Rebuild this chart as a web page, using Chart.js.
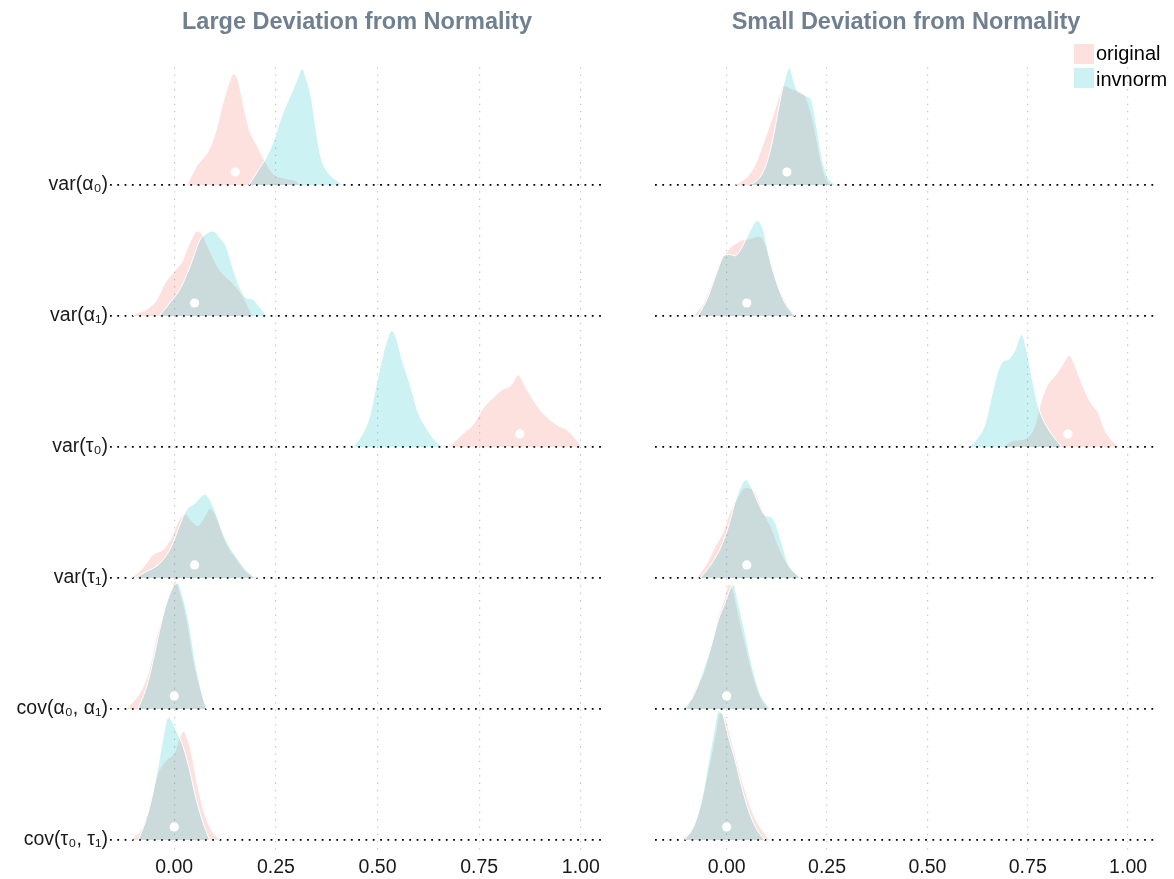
<!DOCTYPE html>
<html>
<head>
<meta charset="utf-8">
<title>Deviation from Normality</title>
<script src="https://cdn.jsdelivr.net/npm/chart.js@4.4.1/dist/chart.umd.min.js"></script>
<style>
	body{margin:0;background:#fff;width:1174px;height:879px;position:relative;overflow:hidden;font-family:"Liberation Sans",Arial,Helvetica,sans-serif;}
	#chartLarge{position:absolute;left:0;top:0;}
	#chartSmall{position:absolute;left:620px;top:0;}
	.key{position:absolute;left:1074px;width:20px;height:20px;}
	.lab{position:absolute;left:1096px;font-size:20px;line-height:24px;color:#000;white-space:nowrap;}
</style>
</head>
<body>
<canvas id="chartLarge" width="620" height="879"></canvas>
<canvas id="chartSmall" width="554" height="879"></canvas>
<div class="key" style="top:44px;background:rgba(248,118,109,0.22)"></div>
<div class="lab" style="top:41px">original</div>
<div class="key" style="top:68px;background:rgba(0,191,196,0.2)"></div>
<div class="lab" style="top:67px">invnorm</div>
<script>
	//DATA (rows from top to bottom, density as [x, height in rows])
	var rowLabels=["var(α₀)","var(α₁)","var(τ₀)","var(τ₁)","cov(α₀, α₁)","cov(τ₀, τ₁)"];
	var tickValues=[0,0.25,0.5,0.75,1];
	var trueValues=[0.15,0.05,0.85,0.05,0,0];

	var largeOriginal=[
		[[0.031,0],[0.054,.14],[0.087,.28],[0.103,.42],[0.120,.63],[0.136,.79],[0.146,.85],[0.157,.80],[0.169,.63],[0.185,.42],[0.202,.31],[0.222,.19],[0.242,.09],[0.275,.05],[0.304,.02],[0.308,0]],
		[[-0.102,0],[-0.094,.02],[-0.068,.05],[-0.044,.12],[-0.023,.25],[-0.003,.33],[0.018,.41],[0.038,.56],[0.056,.65],[0.067,.63],[0.087,.50],[0.112,.35],[0.144,.25],[0.169,.15],[0.193,0]],
		[[0.676,0],[0.709,.10],[0.737,.18],[0.758,.29],[0.782,.37],[0.807,.44],[0.828,.47],[0.846,.55],[0.864,.46],[0.889,.33],[0.913,.24],[0.946,.16],[0.962,.14],[0.983,.08],[1.003,0]],
		[[-0.105,0],[-0.077,.08],[-0.052,.18],[-0.027,.22],[-0.007,.31],[0.009,.43],[0.026,.49],[0.042,.44],[0.058,.40],[0.075,.47],[0.087,.53],[0.104,.47],[0.120,.33],[0.136,.22],[0.153,.15],[0.173,.06],[0.193,.02],[0.206,0]],
		[[-0.117,0],[-0.080,.15],[-0.060,.32],[-0.044,.55],[-0.027,.73],[-0.011,.88],[0.003,.98],[0.018,.85],[0.030,.70],[0.046,.40],[0.063,.17],[0.079,0]],
		[[-0.105,0],[-0.077,.11],[-0.056,.33],[-0.040,.51],[-0.019,.61],[0.001,.67],[0.013,.78],[0.023,.83],[0.034,.76],[0.046,.61],[0.058,.41],[0.075,.20],[0.091,.08],[0.112,0]]
	];
	var largeInvnorm=[
		[[0.184,0],[0.206,.11],[0.226,.21],[0.242,.32],[0.267,.55],[0.288,.70],[0.304,.82],[0.315,.89],[0.324,.82],[0.337,.67],[0.349,.42],[0.361,.21],[0.377,.10],[0.398,.04],[0.414,0]],
		[[-0.037,0],[-0.011,.10],[0.013,.20],[0.038,.37],[0.063,.58],[0.079,.63],[0.095,.65],[0.112,.60],[0.128,.53],[0.144,.37],[0.161,.22],[0.177,.14],[0.193,.13],[0.210,.07],[0.228,0]],
		[[0.439,0],[0.463,.10],[0.480,.23],[0.496,.46],[0.512,.69],[0.527,.85],[0.535,.89],[0.545,.84],[0.561,.66],[0.582,.46],[0.598,.28],[0.619,.15],[0.639,.06],[0.660,0]],
		[[-0.097,0],[-0.068,.05],[-0.036,.11],[-0.007,.24],[0.013,.40],[0.030,.52],[0.050,.57],[0.075,.64],[0.091,.58],[0.104,.48],[0.120,.34],[0.136,.24],[0.157,.14],[0.177,.06],[0.198,0]],
		[[-0.089,0],[-0.068,.17],[-0.052,.37],[-0.036,.60],[-0.019,.81],[-0.003,.93],[0.008,.96],[0.022,.85],[0.038,.63],[0.054,.32],[0.071,.09],[0.080,0]],
		[[-0.089,0],[-0.072,.13],[-0.056,.31],[-0.040,.56],[-0.027,.79],[-0.015,.94],[-0.003,.89],[0.009,.81],[0.022,.71],[0.038,.53],[0.054,.31],[0.071,.13],[0.087,0]]
	];
	var smallOriginal=[
		[[0.021,0],[0.050,.06],[0.070,.15],[0.091,.32],[0.112,.50],[0.133,.70],[0.141,.76],[0.166,.73],[0.178,.72],[0.195,.68],[0.212,.53],[0.224,.35],[0.237,.15],[0.249,.04],[0.262,0]],
		[[-0.083,0],[-0.058,.10],[-0.033,.28],[-0.012,.43],[0.008,.52],[0.025,.56],[0.037,.58],[0.058,.59],[0.079,.61],[0.095,.56],[0.112,.38],[0.129,.23],[0.149,.10],[0.166,0]],
		[[0.689,0],[0.714,.05],[0.739,.06],[0.760,.11],[0.772,.21],[0.782,.34],[0.797,.46],[0.822,.56],[0.839,.64],[0.853,.70],[0.868,.62],[0.884,.49],[0.905,.35],[0.926,.26],[0.942,.13],[0.963,.04],[0.980,0]],
		[[-0.075,0],[-0.050,.11],[-0.029,.24],[-0.008,.36],[0.008,.50],[0.025,.60],[0.046,.69],[0.068,.67],[0.083,.57],[0.095,.48],[0.112,.38],[0.129,.24],[0.145,.14],[0.166,.05],[0.191,0]],
		[[-0.100,0],[-0.079,.15],[-0.058,.27],[-0.037,.50],[-0.021,.71],[-0.007,.83],[0.004,.95],[0.012,.94],[0.029,.73],[0.046,.50],[0.062,.30],[0.083,.10],[0.104,0]],
		[[-0.104,0],[-0.079,.13],[-0.058,.36],[-0.042,.59],[-0.029,.79],[-0.017,.97],[-0.004,.94],[0.008,.81],[0.025,.61],[0.041,.43],[0.062,.23],[0.083,.10],[0.108,0]]
	];
	var smallInvnorm=[
		[[0.058,0],[0.083,.06],[0.100,.17],[0.115,.35],[0.129,.58],[0.141,.76],[0.151,.87],[0.156,.90],[0.164,.83],[0.174,.73],[0.187,.70],[0.199,.68],[0.212,.64],[0.224,.45],[0.237,.22],[0.249,.08],[0.270,0]],
		[[-0.071,0],[-0.046,.15],[-0.025,.33],[-0.007,.46],[0.008,.47],[0.021,.46],[0.037,.52],[0.058,.65],[0.076,.73],[0.091,.66],[0.108,.43],[0.125,.25],[0.145,.10],[0.170,0]],
		[[0.602,0],[0.623,.06],[0.644,.18],[0.660,.39],[0.677,.59],[0.691,.66],[0.702,.67],[0.718,.74],[0.735,.86],[0.747,.74],[0.760,.54],[0.776,.31],[0.793,.18],[0.814,.08],[0.835,0]],
		[[-0.066,0],[-0.042,.09],[-0.017,.22],[0.004,.39],[0.025,.62],[0.048,.75],[0.062,.69],[0.079,.57],[0.095,.48],[0.108,.47],[0.120,.43],[0.137,.27],[0.153,.11],[0.183,0]],
		[[-0.108,0],[-0.083,.10],[-0.058,.30],[-0.037,.50],[-0.021,.68],[-0.004,.81],[0.008,.91],[0.017,.95],[0.029,.81],[0.046,.58],[0.062,.35],[0.083,.12],[0.108,0]],
		[[-0.108,0],[-0.083,.10],[-0.062,.31],[-0.046,.59],[-0.033,.81],[-0.021,.98],[-0.012,.97],[0.004,.79],[0.021,.61],[0.037,.41],[0.054,.23],[0.075,.08],[0.095,0]]
	];

	var FONT="'Liberation Sans', Arial, Helvetica, sans-serif";
	var PINK="rgba(248,118,109,0.22)";
	var CYAN="rgba(0,191,196,0.2)";
	var POINT_LIFT=0.10;
	var lastRow=rowLabels.length-1;

	//FUNCTION TO TURN ONE DENSITY INTO A FILLED RIDGE
	function ridge(curve,base,color,order){
		return {
			data:curve.map(function(p){ return {x:p[0],y:base+p[1]}; }),
			fill:{value:base},
			backgroundColor:color,
			borderColor:"#ffffff",
			borderWidth:1,
			pointRadius:0,
			cubicInterpolationMode:"monotone",
			order:order
		};
	};

	//FUNCTION TO BUILD ALL RIDGES AND TRUE VALUE POINTS OF ONE PANEL
	function buildDatasets(original,invnorm){
		var sets=[];
		for (var r=0;r<rowLabels.length;r++){
			var base=lastRow-r;
			sets.push(ridge(invnorm[r],base,CYAN,1));
			sets.push(ridge(original[r],base,PINK,2));
		}
		sets.push({
			type:"scatter",
			data:trueValues.map(function(v,r){ return {x:v,y:lastRow-r+POINT_LIFT}; }),
			showLine:false,
			pointRadius:4.6,
			pointBackgroundColor:"#ffffff",
			backgroundColor:"#ffffff",
			pointBorderWidth:0,
			borderWidth:0,
			order:0
		});
		return sets;
	};

	//FUNCTION TO CREATE ONE PANEL
	function makeChart(id,title,xMin,xMax,axisWidth,padRight,showLabels,original,invnorm){
		return new Chart(document.getElementById(id),{
			type:"line",
			data:{datasets:buildDatasets(original,invnorm)},
			options:{
				responsive:false,
				animation:false,
				events:[],
				layout:{padding:{left:0,right:padRight,top:0,bottom:0}},
				plugins:{
					legend:{display:false},
					tooltip:{enabled:false},
					title:{
						display:true,
						text:title,
						fullSize:false,
						color:"#708090",
						font:{family:FONT,size:23.5,weight:"bold"},
						padding:{top:8,bottom:31}
					}
				},
				scales:{
					x:{
						type:"linear",
						min:xMin,
						max:xMax,
						afterBuildTicks:function(s){ s.ticks=tickValues.map(function(v){ return {value:v}; }); },
						afterFit:function(s){ s.height=26; },
						ticks:{
							padding:3,
							color:"#1a1a1a",
							font:{family:FONT,size:19.5},
							maxRotation:0,
							callback:function(v){ return Number(v).toFixed(2); }
						},
						grid:{color:"#c4c4c4",lineWidth:1.2,drawTicks:false},
						border:{display:false,dash:[1.3,6]}
					},
					y:{
						type:"linear",
						min:-0.099,
						max:5.9,
						afterBuildTicks:function(s){ s.ticks=rowLabels.map(function(l,i){ return {value:i}; }); },
						afterFit:function(s){ s.width=axisWidth; },
						ticks:{
							display:showLabels,
							padding:2,
							color:"#1a1a1a",
							font:{family:FONT,size:19.5},
							callback:function(v){ return rowLabels[lastRow-v]; }
						},
						grid:{color:"#000000",lineWidth:1.8,drawTicks:false},
						border:{display:false,dash:[1.8,5.5]}
					}
				}
			}
		});
	};

	var largeChart=makeChart("chartLarge","Large Deviation from Normality",-0.158,1.057,110,16,true,largeOriginal,largeInvnorm);
	var smallChart=makeChart("chartSmall","Small Deviation from Normality",-0.1786,1.072,35,17,false,smallOriginal,smallInvnorm);
</script>
</body>
</html>
